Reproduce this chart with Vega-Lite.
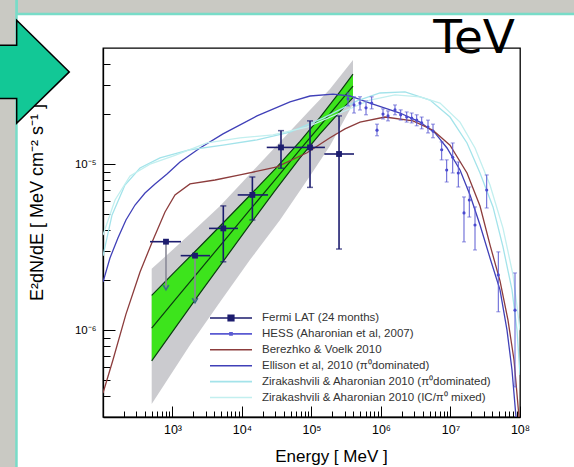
{
  "$schema": "https://vega.github.io/schema/vega-lite/v6.json",
  "width": 417,
  "height": 369,
  "autosize": {"type": "none"},
  "padding": {"left": 103, "top": 48, "right": 54, "bottom": 50},
  "background": "white",
  "config": {
    "view": {"stroke": "black", "strokeWidth": 1.3},
    "font": "Liberation Sans",
    "axis": {"grid": false, "zindex": 1, "domainColor": "black", "domainWidth": 1.3, "tickColor": "black", "tickWidth": 1, "labelColor": "black", "titleColor": "black", "labelFont": "Liberation Sans", "titleFont": "Liberation Sans", "titleFontWeight": "normal", "labelOverlap": false, "labelFlush": false}
  },
  "datasets": {
    "label": [
      {"text": "TeV", "e": 84700000, "f": 4.68e-5}
    ],
    "grey": [
      {"e": 502, "lo": 3.59e-7, "hi": 2.34e-6},
      {"e": 1786, "lo": 8.15e-7, "hi": 3.79e-6},
      {"e": 4827, "lo": 1.48e-6, "hi": 5.59e-6},
      {"e": 13040, "lo": 2.65e-6, "hi": 8.72e-6},
      {"e": 35230, "lo": 4.61e-6, "hi": 1.36e-5},
      {"e": 95150, "lo": 8.48e-6, "hi": 2.12e-5},
      {"e": 184600, "lo": 1.29e-5, "hi": 2.83e-5},
      {"e": 395400, "lo": 2.30e-5, "hi": 4.23e-5}
    ],
    "green": [
      {"e": 502, "lo": 6.54e-7, "hi": 1.62e-6, "c": 1.03e-6},
      {"e": 1086, "lo": 1.03e-6, "hi": 2.25e-6, "c": 1.52e-6},
      {"e": 2487, "lo": 1.67e-6, "hi": 3.19e-6, "c": 2.31e-6},
      {"e": 5692, "lo": 2.69e-6, "hi": 4.54e-6, "c": 3.50e-6},
      {"e": 13040, "lo": 4.34e-6, "hi": 6.49e-6, "c": 5.31e-6},
      {"e": 29840, "lo": 6.93e-6, "hi": 9.33e-6, "c": 8.04e-6},
      {"e": 68320, "lo": 1.09e-5, "hi": 1.37e-5, "c": 1.22e-5},
      {"e": 132600, "lo": 1.52e-5, "hi": 1.91e-5, "c": 1.70e-5},
      {"e": 257200, "lo": 2.07e-5, "hi": 2.73e-5, "c": 2.38e-5},
      {"e": 395400, "lo": 2.51e-5, "hi": 3.48e-5, "c": 2.95e-5}
    ],
    "models": [
      {"series": "Ellison et al, 2010 (π⁰dominated)", "e": 100, "f": 1.95e-6},
      {"series": "Ellison et al, 2010 (π⁰dominated)", "e": 126, "f": 2.72e-6},
      {"series": "Ellison et al, 2010 (π⁰dominated)", "e": 164, "f": 3.59e-6},
      {"series": "Ellison et al, 2010 (π⁰dominated)", "e": 214, "f": 4.61e-6},
      {"series": "Ellison et al, 2010 (π⁰dominated)", "e": 289, "f": 5.67e-6},
      {"series": "Ellison et al, 2010 (π⁰dominated)", "e": 402, "f": 6.70e-6},
      {"series": "Ellison et al, 2010 (π⁰dominated)", "e": 560, "f": 7.59e-6},
      {"series": "Ellison et al, 2010 (π⁰dominated)", "e": 834, "f": 8.72e-6},
      {"series": "Ellison et al, 2010 (π⁰dominated)", "e": 1282, "f": 1.03e-5},
      {"series": "Ellison et al, 2010 (π⁰dominated)", "e": 2487, "f": 1.25e-5},
      {"series": "Ellison et al, 2010 (π⁰dominated)", "e": 5328, "f": 1.52e-5},
      {"series": "Ellison et al, 2010 (π⁰dominated)", "e": 16440, "f": 1.95e-5},
      {"series": "Ellison et al, 2010 (π⁰dominated)", "e": 49060, "f": 2.37e-5},
      {"series": "Ellison et al, 2010 (π⁰dominated)", "e": 95150, "f": 2.57e-5},
      {"series": "Ellison et al, 2010 (π⁰dominated)", "e": 203900, "f": 2.64e-5},
      {"series": "Ellison et al, 2010 (π⁰dominated)", "e": 358100, "f": 2.57e-5},
      {"series": "Ellison et al, 2010 (π⁰dominated)", "e": 694600, "f": 2.33e-5},
      {"series": "Ellison et al, 2010 (π⁰dominated)", "e": 1877000, "f": 2.03e-5},
      {"series": "Ellison et al, 2010 (π⁰dominated)", "e": 3641000, "f": 1.79e-5},
      {"series": "Ellison et al, 2010 (π⁰dominated)", "e": 5984000, "f": 1.54e-5},
      {"series": "Ellison et al, 2010 (π⁰dominated)", "e": 8905000, "f": 1.25e-5},
      {"series": "Ellison et al, 2010 (π⁰dominated)", "e": 13700000, "f": 9.21e-6},
      {"series": "Ellison et al, 2010 (π⁰dominated)", "e": 19090000, "f": 6.51e-6},
      {"series": "Ellison et al, 2010 (π⁰dominated)", "e": 26580000, "f": 4.30e-6},
      {"series": "Ellison et al, 2010 (π⁰dominated)", "e": 37010000, "f": 2.72e-6},
      {"series": "Ellison et al, 2010 (π⁰dominated)", "e": 51550000, "f": 1.75e-6},
      {"series": "Ellison et al, 2010 (π⁰dominated)", "e": 65010000, "f": 1.00e-6},
      {"series": "Ellison et al, 2010 (π⁰dominated)", "e": 76710000, "f": 5.76e-7},
      {"series": "Ellison et al, 2010 (π⁰dominated)", "e": 87580000, "f": 3.00e-7},
      {"series": "Berezhko & Voelk 2010", "e": 100, "f": 4.18e-7},
      {"series": "Berezhko & Voelk 2010", "e": 139, "f": 6.61e-7},
      {"series": "Berezhko & Voelk 2010", "e": 214, "f": 1.25e-6},
      {"series": "Berezhko & Voelk 2010", "e": 341, "f": 2.24e-6},
      {"series": "Berezhko & Voelk 2010", "e": 524, "f": 3.49e-6},
      {"series": "Berezhko & Voelk 2010", "e": 780, "f": 5.15e-6},
      {"series": "Berezhko & Voelk 2010", "e": 1086, "f": 6.51e-6},
      {"series": "Berezhko & Voelk 2010", "e": 1786, "f": 7.59e-6},
      {"series": "Berezhko & Voelk 2010", "e": 4088, "f": 8.02e-6},
      {"series": "Berezhko & Voelk 2010", "e": 9359, "f": 8.60e-6},
      {"series": "Berezhko & Voelk 2010", "e": 31880, "f": 9.61e-6},
      {"series": "Berezhko & Voelk 2010", "e": 86170, "f": 1.17e-5},
      {"series": "Berezhko & Voelk 2010", "e": 184600, "f": 1.44e-5},
      {"series": "Berezhko & Voelk 2010", "e": 303400, "f": 1.63e-5},
      {"series": "Berezhko & Voelk 2010", "e": 498600, "f": 1.79e-5},
      {"series": "Berezhko & Voelk 2010", "e": 1142000, "f": 1.92e-5},
      {"series": "Berezhko & Voelk 2010", "e": 2887000, "f": 1.82e-5},
      {"series": "Berezhko & Voelk 2010", "e": 5602000, "f": 1.60e-5},
      {"series": "Berezhko & Voelk 2010", "e": 9836000, "f": 1.30e-5},
      {"series": "Berezhko & Voelk 2010", "e": 17280000, "f": 8.84e-6},
      {"series": "Berezhko & Voelk 2010", "e": 26580000, "f": 5.59e-6},
      {"series": "Berezhko & Voelk 2010", "e": 37010000, "f": 3.26e-6},
      {"series": "Berezhko & Voelk 2010", "e": 51550000, "f": 1.98e-6},
      {"series": "Berezhko & Voelk 2010", "e": 67200000, "f": 1.15e-6},
      {"series": "Berezhko & Voelk 2010", "e": 81990000, "f": 6.61e-7},
      {"series": "Berezhko & Voelk 2010", "e": 96740000, "f": 3.00e-7},
      {"series": "Zirakashvili & Aharonian 2010 (π⁰dominated)", "e": 100, "f": 2.80e-6},
      {"series": "Zirakashvili & Aharonian 2010 (π⁰dominated)", "e": 135, "f": 4.94e-6},
      {"series": "Zirakashvili & Aharonian 2010 (π⁰dominated)", "e": 207, "f": 7.48e-6},
      {"series": "Zirakashvili & Aharonian 2010 (π⁰dominated)", "e": 341, "f": 9.47e-6},
      {"series": "Zirakashvili & Aharonian 2010 (π⁰dominated)", "e": 661, "f": 1.09e-5},
      {"series": "Zirakashvili & Aharonian 2010 (π⁰dominated)", "e": 1786, "f": 1.22e-5},
      {"series": "Zirakashvili & Aharonian 2010 (π⁰dominated)", "e": 5328, "f": 1.30e-5},
      {"series": "Zirakashvili & Aharonian 2010 (π⁰dominated)", "e": 16440, "f": 1.40e-5},
      {"series": "Zirakashvili & Aharonian 2010 (π⁰dominated)", "e": 49060, "f": 1.56e-5},
      {"series": "Zirakashvili & Aharonian 2010 (π⁰dominated)", "e": 146400, "f": 1.89e-5},
      {"series": "Zirakashvili & Aharonian 2010 (π⁰dominated)", "e": 451600, "f": 2.40e-5},
      {"series": "Zirakashvili & Aharonian 2010 (π⁰dominated)", "e": 967300, "f": 2.68e-5},
      {"series": "Zirakashvili & Aharonian 2010 (π⁰dominated)", "e": 2215000, "f": 2.72e-5},
      {"series": "Zirakashvili & Aharonian 2010 (π⁰dominated)", "e": 5070000, "f": 2.43e-5},
      {"series": "Zirakashvili & Aharonian 2010 (π⁰dominated)", "e": 9836000, "f": 1.92e-5},
      {"series": "Zirakashvili & Aharonian 2010 (π⁰dominated)", "e": 17280000, "f": 1.34e-5},
      {"series": "Zirakashvili & Aharonian 2010 (π⁰dominated)", "e": 26580000, "f": 8.84e-6},
      {"series": "Zirakashvili & Aharonian 2010 (π⁰dominated)", "e": 40880000, "f": 5.52e-6},
      {"series": "Zirakashvili & Aharonian 2010 (π⁰dominated)", "e": 56920000, "f": 3.17e-6},
      {"series": "Zirakashvili & Aharonian 2010 (π⁰dominated)", "e": 76710000, "f": 1.75e-6},
      {"series": "Zirakashvili & Aharonian 2010 (π⁰dominated)", "e": 90540000, "f": 1.00e-6},
      {"series": "Zirakashvili & Aharonian 2010 (π⁰dominated)", "e": 100000000, "f": 5.37e-7},
      {"series": "Zirakashvili & Aharonian 2010 (IC/π⁰ mixed)", "e": 100, "f": 3.74e-6},
      {"series": "Zirakashvili & Aharonian 2010 (IC/π⁰ mixed)", "e": 149, "f": 6.08e-6},
      {"series": "Zirakashvili & Aharonian 2010 (IC/π⁰ mixed)", "e": 245, "f": 8.48e-6},
      {"series": "Zirakashvili & Aharonian 2010 (IC/π⁰ mixed)", "e": 475, "f": 1.00e-5},
      {"series": "Zirakashvili & Aharonian 2010 (IC/π⁰ mixed)", "e": 1086, "f": 1.13e-5},
      {"series": "Zirakashvili & Aharonian 2010 (IC/π⁰ mixed)", "e": 3136, "f": 1.34e-5},
      {"series": "Zirakashvili & Aharonian 2010 (IC/π⁰ mixed)", "e": 9359, "f": 1.44e-5},
      {"series": "Zirakashvili & Aharonian 2010 (IC/π⁰ mixed)", "e": 27930, "f": 1.50e-5},
      {"series": "Zirakashvili & Aharonian 2010 (IC/π⁰ mixed)", "e": 86170, "f": 1.67e-5},
      {"series": "Zirakashvili & Aharonian 2010 (IC/π⁰ mixed)", "e": 257200, "f": 2.03e-5},
      {"series": "Zirakashvili & Aharonian 2010 (IC/π⁰ mixed)", "e": 694600, "f": 2.43e-5},
      {"series": "Zirakashvili & Aharonian 2010 (IC/π⁰ mixed)", "e": 1590000, "f": 2.61e-5},
      {"series": "Zirakashvili & Aharonian 2010 (IC/π⁰ mixed)", "e": 3641000, "f": 2.54e-5},
      {"series": "Zirakashvili & Aharonian 2010 (IC/π⁰ mixed)", "e": 7062000, "f": 2.33e-5},
      {"series": "Zirakashvili & Aharonian 2010 (IC/π⁰ mixed)", "e": 13700000, "f": 1.79e-5},
      {"series": "Zirakashvili & Aharonian 2010 (IC/π⁰ mixed)", "e": 22520000, "f": 1.25e-5},
      {"series": "Zirakashvili & Aharonian 2010 (IC/π⁰ mixed)", "e": 37010000, "f": 7.48e-6},
      {"series": "Zirakashvili & Aharonian 2010 (IC/π⁰ mixed)", "e": 56920000, "f": 4.12e-6},
      {"series": "Zirakashvili & Aharonian 2010 (IC/π⁰ mixed)", "e": 79290000, "f": 2.15e-6},
      {"series": "Zirakashvili & Aharonian 2010 (IC/π⁰ mixed)", "e": 100000000, "f": 1.00e-6}
    ],
    "hess": [
      {"e": 335200, "f": 2.47e-5, "lo": 2.24e-5, "hi": 2.68e-5},
      {"e": 408800, "f": 2.27e-5, "lo": 2.03e-5, "hi": 2.54e-5},
      {"e": 498600, "f": 2.33e-5, "lo": 2.12e-5, "hi": 2.54e-5},
      {"e": 608400, "f": 2.18e-5, "lo": 1.98e-5, "hi": 2.40e-5},
      {"e": 734900, "f": 2.33e-5, "lo": 2.15e-5, "hi": 2.54e-5},
      {"e": 875800, "f": 1.60e-5, "lo": 1.48e-5, "hi": 1.74e-5},
      {"e": 1069000, "f": 2.00e-5, "lo": 1.87e-5, "hi": 2.15e-5},
      {"e": 1261000, "f": 1.95e-5, "lo": 1.82e-5, "hi": 2.09e-5},
      {"e": 1590000, "f": 2.12e-5, "lo": 1.98e-5, "hi": 2.27e-5},
      {"e": 1921000, "f": 1.98e-5, "lo": 1.84e-5, "hi": 2.12e-5},
      {"e": 2344000, "f": 1.92e-5, "lo": 1.79e-5, "hi": 2.06e-5},
      {"e": 2765000, "f": 1.89e-5, "lo": 1.77e-5, "hi": 2.03e-5},
      {"e": 3264000, "f": 1.84e-5, "lo": 1.70e-5, "hi": 1.98e-5},
      {"e": 3852000, "f": 1.77e-5, "lo": 1.63e-5, "hi": 1.92e-5},
      {"e": 4747000, "f": 1.67e-5, "lo": 1.54e-5, "hi": 1.84e-5},
      {"e": 5602000, "f": 1.58e-5, "lo": 1.44e-5, "hi": 1.74e-5},
      {"e": 7469000, "f": 1.22e-5, "lo": 1.06e-5, "hi": 1.36e-5},
      {"e": 8816000, "f": 9.21e-6, "lo": 7.80e-6, "hi": 1.06e-5},
      {"e": 10760000, "f": 1.10e-5, "lo": 8.84e-6, "hi": 1.34e-5},
      {"e": 12950000, "f": 8.84e-6, "lo": 7.28e-6, "hi": 1.03e-5},
      {"e": 15640000, "f": 5.08e-6, "lo": 3.40e-6, "hi": 6.34e-6},
      {"e": 18650000, "f": 6.08e-6, "lo": 4.80e-6, "hi": 7.28e-6},
      {"e": 22520000, "f": 4.30e-6, "lo": 3.04e-6, "hi": 5.52e-6},
      {"e": 33180000, "f": 6.98e-6, "lo": 5.44e-6, "hi": 8.60e-6},
      {"e": 48730000, "f": 2.15e-6, "lo": 1.29e-6, "hi": 2.96e-6},
      {"e": 84750000, "f": 1.32e-6, "lo": 4.55e-7, "hi": 2.21e-6}
    ],
    "fermi": [
      {"e": 806, "elo": 475, "ehi": 1326, "f": 3.41e-6, "flo": 1.75e-6, "fhi": 3.41e-6, "ul": 1},
      {"e": 2108, "elo": 1312, "ehi": 3467, "f": 2.81e-6, "flo": 1.46e-6, "fhi": 2.81e-6, "ul": 1},
      {"e": 5383, "elo": 3353, "ehi": 8750, "f": 4.10e-6, "flo": 2.58e-6, "fhi": 5.60e-6, "ul": 0},
      {"e": 14100, "elo": 8670, "ehi": 23700, "f": 6.52e-6, "flo": 4.61e-6, "fhi": 8.36e-6, "ul": 0},
      {"e": 36400, "elo": 22700, "ehi": 59300, "f": 1.26e-5, "flo": 9.44e-6, "fhi": 1.59e-5, "ul": 0},
      {"e": 95200, "elo": 59300, "ehi": 156000, "f": 1.26e-5, "flo": 7.24e-6, "fhi": 1.82e-5, "ul": 0},
      {"e": 249000, "elo": 153000, "ehi": 409000, "f": 1.15e-5, "flo": 3.08e-6, "fhi": 1.95e-5, "ul": 0}
    ]
  },
  "layer": [
    {
      "data": {"values": [{}]},
      "mark": {"type": "rect", "fill": "#c9c9c3", "stroke": "#78dcc8", "strokeWidth": 2.5, "clip": false},
      "encoding": {
        "x": {"datum": 5.69, "type": "quantitative", "scale": {"type": "log", "domain": [100, 100000000], "nice": false},
          "axis": {
            "title": "Energy [ MeV ]", "titleFontSize": 17, "titleX": 228, "titleY": 44, "titleBaseline": "alphabetic",
            "values": [200,300,400,500,600,700,800,900,1000,2000,3000,4000,5000,6000,7000,8000,9000,10000,20000,30000,40000,50000,60000,70000,80000,90000,100000,200000,300000,400000,500000,600000,700000,800000,900000,1000000,2000000,3000000,4000000,5000000,6000000,7000000,8000000,9000000,10000000,20000000,30000000,40000000,50000000,60000000,70000000,80000000,90000000,100000000],
            "labelExpr": "abs(log(datum.value)/LN10 - round(log(datum.value)/LN10)) < 0.001 ? '10' + ['⁰','¹','²','³','⁴','⁵','⁶','⁷','⁸','⁹'][round(log(datum.value)/LN10)] : ''",
            "tickSize": {"condition": {"test": "abs(log(datum.value)/LN10 - round(log(datum.value)/LN10)) < 0.001", "value": -11}, "value": -6},
            "labelFontSize": 12.5, "labelPadding": 17
          }},
        "x2": {"datum": 1000000000000},
        "y": {"datum": 8.0e-5, "type": "quantitative", "scale": {"type": "log", "domain": [3e-7, 5e-5], "nice": false},
          "axis": {
            "title": "E²dN/dE [ MeV cm⁻² s⁻¹ ]", "titleFontSize": 18, "titleX": -57, "titleY": 154,
            "values": [4e-7,5e-7,6e-7,7e-7,8e-7,9e-7,1e-6,2e-6,3e-6,4e-6,5e-6,6e-6,7e-6,8e-6,9e-6,1e-5,2e-5,3e-5,4e-5],
            "labelExpr": "abs(datum.value - 1e-5) < 1e-9 ? '10⁻⁵' : (abs(datum.value - 1e-6) < 1e-10 ? '10⁻⁶' : '')",
            "tickSize": {"condition": {"test": "abs(log(datum.value)/LN10 - round(log(datum.value)/LN10)) < 0.001", "value": -12}, "value": -7},
            "labelFontSize": 11.5, "labelPadding": 19
          }},
        "y2": {"datum": 1}
      }
    },
    {
      "data": {"values": [{}]},
      "mark": {"type": "rect", "fill": "#c9c9c3", "stroke": "#78dcc8", "strokeWidth": 2.5, "clip": false},
      "encoding": {
        "x": {"datum": 0.5, "type": "quantitative"},
        "x2": {"datum": 5.69},
        "y": {"datum": 1e-9, "type": "quantitative"},
        "y2": {"datum": 0.01}
      }
    },
    {
      "data": {"values": [{}]},
      "mark": {"type": "point", "shape": "M-0.8,-0.53L-0.266,-0.53L-0.266,-1.03L0.786,0.004L-0.266,1.03L-0.266,0.536L-0.8,0.536Z", "size": 10000, "filled": true, "fill": "#12c896", "stroke": "black", "strokeWidth": 1.5, "opacity": 1, "clip": false},
      "encoding": {
        "x": {"datum": 8.9, "type": "quantitative"},
        "y": {"datum": 3.6e-5, "type": "quantitative"}
      }
    },
    {
      "data": {"name": "label"},
      "mark": {"type": "text", "align": "right", "baseline": "alphabetic", "font": "DejaVu Sans", "fontSize": 47, "color": "black", "clip": false},
      "encoding": {
        "x": {"field": "e", "type": "quantitative"},
        "y": {"field": "f", "type": "quantitative"},
        "text": {"field": "text"}
      }
    },
    {
      "data": {"name": "grey"},
      "mark": {"type": "area", "fill": "#c8c8cc", "opacity": 0.95},
      "encoding": {
        "x": {"field": "e", "type": "quantitative"},
        "y": {"field": "lo", "type": "quantitative"},
        "y2": {"field": "hi"}
      }
    },
    {
      "data": {"name": "green"},
      "mark": {"type": "area", "fill": "#3de41c"},
      "encoding": {
        "x": {"field": "e", "type": "quantitative"},
        "y": {"field": "lo", "type": "quantitative"},
        "y2": {"field": "hi"}
      }
    },
    {
      "data": {"name": "green"},
      "mark": {"type": "line", "color": "#0b3d10", "strokeWidth": 1.2},
      "encoding": {"x": {"field": "e", "type": "quantitative"}, "y": {"field": "lo", "type": "quantitative"}}
    },
    {
      "data": {"name": "green"},
      "mark": {"type": "line", "color": "#0b3d10", "strokeWidth": 1.2},
      "encoding": {"x": {"field": "e", "type": "quantitative"}, "y": {"field": "hi", "type": "quantitative"}}
    },
    {
      "data": {"name": "green"},
      "mark": {"type": "line", "color": "#0b3d10", "strokeWidth": 1.2},
      "encoding": {"x": {"field": "e", "type": "quantitative"}, "y": {"field": "c", "type": "quantitative"}}
    },
    {
      "data": {"name": "models"},
      "mark": {"type": "line", "strokeWidth": 1.3, "clip": true},
      "encoding": {
        "x": {"field": "e", "type": "quantitative"},
        "y": {"field": "f", "type": "quantitative"},
        "color": {
          "field": "series", "type": "nominal",
          "scale": {
            "domain": ["Fermi LAT (24 months)", "HESS (Aharonian et al, 2007)", "Berezhko & Voelk 2010", "Ellison et al, 2010 (π⁰dominated)", "Zirakashvili & Aharonian 2010 (π⁰dominated)", "Zirakashvili & Aharonian 2010 (IC/π⁰ mixed)"],
            "range": ["#1c1c6e", "#5a5ad2", "#8c3c3c", "#4040b8", "#a3e3ea", "#c2efef"]
          },
          "legend": {
            "orient": "none", "legendX": 120, "legendY": 262, "title": null, "padding": 0,
            "symbolType": "M-3,0H3", "symbolSize": 196, "symbolStrokeWidth": 1.6,
            "labelFontSize": 11.5, "labelColor": "#333333", "labelOffset": 23, "rowPadding": 1.9, "labelLimit": 400,
            "encode": {"symbols": {"update": {
              "shape": {"signal": "datum.value === 'Fermi LAT (24 months)' ? 'M-3,0H3M-0.4,-0.4H0.4V0.4H-0.4Z' : (datum.value === 'HESS (Aharonian et al, 2007)' ? 'M-3,0H3M-0.15,-0.15H0.15V0.15H-0.15Z' : 'M-3,0H3')"},
              "fill": {"signal": "scale('color', datum.value)"}
            }}}
          }
        }
      }
    },
    {
      "data": {"name": "hess"},
      "mark": {"type": "rule", "color": "#5a5ad2", "strokeWidth": 1},
      "encoding": {"x": {"field": "e", "type": "quantitative"}, "y": {"field": "lo", "type": "quantitative"}, "y2": {"field": "hi"}}
    },
    {
      "data": {"name": "hess"},
      "mark": {"type": "tick", "orient": "horizontal", "color": "#5a5ad2", "size": 4, "thickness": 1},
      "encoding": {"x": {"field": "e", "type": "quantitative"}, "y": {"field": "lo", "type": "quantitative"}}
    },
    {
      "data": {"name": "hess"},
      "mark": {"type": "tick", "orient": "horizontal", "color": "#5a5ad2", "size": 4, "thickness": 1},
      "encoding": {"x": {"field": "e", "type": "quantitative"}, "y": {"field": "hi", "type": "quantitative"}}
    },
    {
      "data": {"name": "hess"},
      "mark": {"type": "point", "shape": "circle", "filled": true, "color": "#4a4ad0", "size": 10, "opacity": 1},
      "encoding": {"x": {"field": "e", "type": "quantitative"}, "y": {"field": "f", "type": "quantitative"}}
    },
    {
      "data": {"name": "fermi"},
      "mark": {"type": "rule", "strokeWidth": 1.6},
      "encoding": {
        "x": {"field": "e", "type": "quantitative"}, "y": {"field": "flo", "type": "quantitative"}, "y2": {"field": "fhi"},
        "color": {"condition": {"test": "datum.ul == 1", "value": "#8a8a98"}, "value": "#1c1c6e"}
      }
    },
    {
      "data": {"name": "fermi"},
      "mark": {"type": "rule", "strokeWidth": 1.6, "color": "#1c1c6e"},
      "encoding": {"x": {"field": "elo", "type": "quantitative"}, "x2": {"field": "ehi"}, "y": {"field": "f", "type": "quantitative"}}
    },
    {
      "data": {"name": "fermi"},
      "transform": [{"filter": "datum.ul == 0"}],
      "mark": {"type": "tick", "orient": "horizontal", "color": "#1c1c6e", "size": 6, "thickness": 1.5},
      "encoding": {"x": {"field": "e", "type": "quantitative"}, "y": {"field": "flo", "type": "quantitative"}}
    },
    {
      "data": {"name": "fermi"},
      "transform": [{"filter": "datum.ul == 0"}],
      "mark": {"type": "tick", "orient": "horizontal", "color": "#1c1c6e", "size": 6, "thickness": 1.5},
      "encoding": {"x": {"field": "e", "type": "quantitative"}, "y": {"field": "fhi", "type": "quantitative"}}
    },
    {
      "data": {"name": "fermi"},
      "transform": [{"filter": "datum.ul == 1"}],
      "mark": {"type": "point", "shape": "M-0.7,-1.2L0,0L0.7,-1.2", "filled": false, "stroke": "#3a6f86", "strokeWidth": 1.5, "size": 64, "opacity": 1},
      "encoding": {"x": {"field": "e", "type": "quantitative"}, "y": {"field": "flo", "type": "quantitative"}}
    },
    {
      "data": {"name": "fermi"},
      "mark": {"type": "point", "shape": "square", "filled": true, "color": "#1c1c6e", "size": 34, "opacity": 1},
      "encoding": {"x": {"field": "e", "type": "quantitative"}, "y": {"field": "f", "type": "quantitative"}}
    }
  ]
}
